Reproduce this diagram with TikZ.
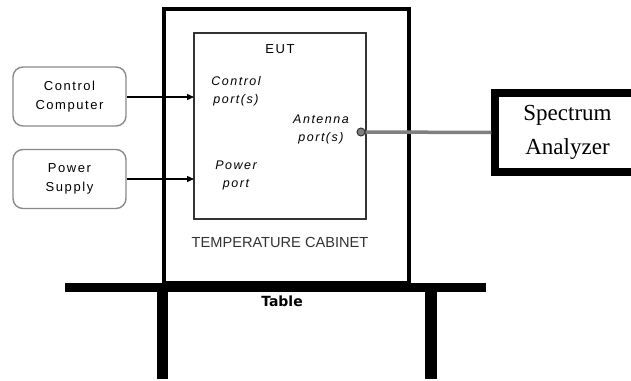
\documentclass[tikz,border=0pt]{standalone}
\usepackage{fontspec}
\setmainfont{Liberation Sans}
\newfontfamily\spacedfont[LetterSpace=12]{Liberation Sans}
\newfontfamily\serffont{Liberation Serif}
\newfontfamily\tablefont{DejaVu Sans}
\usetikzlibrary{arrows.meta}
\definecolor{boxgray}{HTML}{8A8A8A}
\definecolor{linegray}{HTML}{808080}
\definecolor{eutline}{HTML}{333333}
\tikzset{
  srcbox/.style={draw=boxgray, line width=1.4pt, rounded corners=10pt, minimum width=113pt, minimum height=59pt, inner sep=0pt, align=center, font=\spacedfont\fontsize{13}{19}\selectfont},
  porttext/.style={inner sep=0pt, align=center, font=\spacedfont\itshape\fontsize{12.5}{18}\selectfont},
  feed/.style={line width=1.3pt, -{Triangle[length=7pt,width=6pt]}},
  leg/.style={fill=black, draw=none},
}
\begin{document}
\begin{tikzpicture}[x=1pt,y=-1pt]
\clip (0,0) rectangle (631,380);
\fill[white] (0,0) rectangle (631,380);
% cabinet
\node[draw=black, line width=4.5pt, minimum width=245pt, minimum height=274pt, inner sep=0pt] (cab) at (286.5,146) {};
% EUT
\node[draw=eutline, line width=1.5pt, minimum width=172pt, minimum height=186pt, inner sep=0pt] (eut) at (280,126) {};
\node[inner sep=0pt, font=\spacedfont\fontsize{13}{15}\selectfont] (euttxt) at (280,49) {EUT};
\node[porttext] (cport) at (236,91.5) {Control\\port(s)};
\node[porttext] (aport) at (321,129.5) {Antenna\\port(s)};
\node[porttext] (pport) at (236,175) {Power\\port};
\node[inner sep=0pt, text=eutline, font=\fontsize{14.6}{16}\selectfont] (cabtxt) at (280,242) {TEMPERATURE CABINET};
% sources
\node[srcbox] (cc) at (69.5,96.5) {Control\\Computer};
\node[srcbox] (ps) at (69.5,179) {Power\\Supply};
\coordinate (cin) at (194,97);
\coordinate (pin) at (194,179);
\draw[feed] (cc.east |- cin) -- (cin);
\draw[feed] (ps.east |- pin) -- (pin);
% spectrum analyzer
\node[draw=black, line width=7.5pt, minimum width=145pt, minimum height=79pt, inner sep=0pt, align=center, font=\serffont\fontsize{23}{34}\selectfont] (sa) at (567.5,132.5) {Spectrum\\Analyzer};
\node[circle, draw=eutline, fill=linegray, line width=1pt, minimum size=8pt, inner sep=0pt] (ant) at (361,132) {};
\draw[linegray, line width=3.5pt] (ant.east) -- (sa.west);
% table
\fill (65,283) rectangle (486,292);
\fill[leg] (157,290) rectangle (168,379);
\fill[leg] (425,290) rectangle (437,379);
\node[inner sep=0pt, font=\tablefont\bfseries\fontsize{14}{16}\selectfont] (tbl) at (282,301) {Table};
\end{tikzpicture}
\end{document}
